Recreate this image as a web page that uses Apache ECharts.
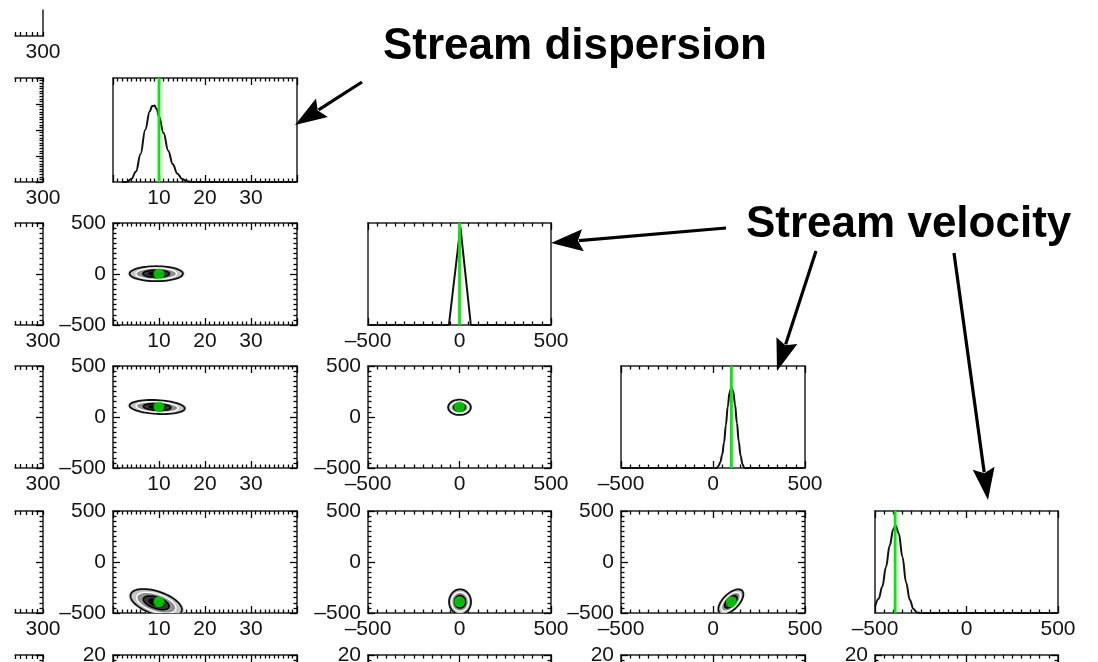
<!DOCTYPE html>
<html>
<head>
<meta charset="utf-8">
<style>
  html, body { margin: 0; padding: 0; background: #fff; }
  #main { width: 1098px; height: 662px; }
</style>
<script src="https://cdn.jsdelivr.net/npm/echarts@6/dist/echarts.min.js"></script>
</head>
<body>
<div id="main"></div>
<script>
// true parameter values (green marks)
const truth = { p0: 300, disp: 10, v1: 0, v2: 100, v3: -390, p5: 0 };

// axis scales and the tick labels that are visible
const p0Range = [250, 300], p0Step = 10, p0Labels = [300];
const dispRange = [0, 40], dispStep = 10, dispLabels = [10, 20, 30];
const velRange = [-500, 500], velStep = 500, velLabels = [-500, 0, 500];
const p5Range = [-20, 20], p5Step = 20, p5Labels = [20];

// 1D marginal curves (height as fraction of panel)
const dispHistX = [2, 3, 4, 5, 6, 7, 8, 8.5, 9, 9.5, 10, 11, 12, 13, 14, 15, 16, 17, 20, 40];
const dispHistY = [0, 0, 0.03, 0.1, 0.27, 0.5, 0.68, 0.73, 0.735, 0.7, 0.63, 0.47, 0.3, 0.17, 0.08, 0.03, 0.01, 0, 0, 0];
const v1HistX = [-500, -58, 5, 62, 500];
const v1HistY = [0, 0, 0.96, 0, 0];
const v2HistX = [-500, 20, 30, 40, 50, 60, 70, 80, 90, 100, 110, 120, 130, 140, 150, 160, 170, 500];
const v2HistY = [0, 0, 0.02, 0.06, 0.13, 0.25, 0.42, 0.6, 0.74, 0.79, 0.75, 0.62, 0.44, 0.26, 0.12, 0.04, 0, 0];
const v3HistX = [-500, -480, -460, -440, -420, -400, -388, -370, -350, -330, -310, -290, -270, -250, 500];
const v3HistY = [0.06, 0.14, 0.26, 0.45, 0.66, 0.82, 0.86, 0.78, 0.55, 0.3, 0.13, 0.04, 0.005, 0, 0];

// 2D posterior blobs: panel "x|y", centre, outer semi-axes, correlation
const blobPanels = ['disp|v1', 'disp|v2', 'v1|v2', 'disp|v3', 'v1|v3', 'v2|v3'];
const blobCx = [9.4, 9.6, 0, 9.4, 3, 97];
const blobCy = [3, 98, 95, -400, -390, -390];
const blobSx = [5.8, 6.0, 62, 5.6, 60, 68];
const blobSy = [73, 69, 75, 135, 122, 122];
const blobRho = [0, -0.2, 0, -0.5, 0, 0.6];

// layout of the (cropped) corner plot
const colParams = ['p0', 'disp', 'v1', 'v2', 'v3'];
const rowParams = ['p0', 'disp', 'v1', 'v2', 'v3', 'p5'];
const colLeft = [15, 113, 368, 621, 875];
const colWidth = [28, 184, 183, 184, 183];
const rowTop = [10, 78, 223, 366, 511, 655];
const rowHeight = [26, 104, 102, 102, 102, 103];

const scales = {
  p0: { range: p0Range, step: p0Step, labels: p0Labels, minor: 0, tick: 4 },
  disp: { range: dispRange, step: dispStep, labels: dispLabels, minor: 10, tick: 7 },
  v1: { range: velRange, step: velStep, labels: velLabels, minor: 10, tick: 7 },
  v2: { range: velRange, step: velStep, labels: velLabels, minor: 10, tick: 7 },
  v3: { range: velRange, step: velStep, labels: velLabels, minor: 10, tick: 7 },
  p5: { range: p5Range, step: p5Step, labels: p5Labels, minor: 10, tick: 7 },
};
const hists = {
  disp: [dispHistX, dispHistY, true],
  v1: [v1HistX, v1HistY, false],
  v2: [v2HistX, v2HistY, true],
  v3: [v3HistX, v3HistY, true],
};

const boxLine = { color: '#222', width: 1.5 };
const tickLine = { color: '#000', width: 1.3 };
const labelFont = { fontSize: 21, fontFamily: 'Liberation Sans, Arial, sans-serif', color: '#141414' };

function labelFmt(list) {
  return function (v) {
    return list.indexOf(v) >= 0 ? String(v).replace('-', '\u2013') : '';
  };
}

function scaleAxis(s, gi, pos, showLine, showLabel, margin) {
  return {
    type: 'value', gridIndex: gi, position: pos,
    min: s.range[0], max: s.range[1], interval: s.step,
    axisLine: { show: showLine, onZero: false, lineStyle: boxLine },
    axisTick: { show: showLine, inside: true, length: s.tick, lineStyle: tickLine },
    minorTick: { show: showLine && s.minor > 0, splitNumber: s.minor || 5, length: 3.5, lineStyle: tickLine },
    splitLine: { show: false },
    minorSplitLine: { show: false },
    axisLabel: Object.assign({
      show: showLabel, margin: margin, showMinLabel: true, showMaxLabel: true,
      formatter: labelFmt(s.labels)
    }, labelFont),
  };
}

function histYAxis(gi, pos, showLine) {
  return {
    type: 'value', gridIndex: gi, position: pos, min: 0, max: 1,
    axisLine: { show: showLine, onZero: false, lineStyle: boxLine },
    axisTick: { show: false }, minorTick: { show: false },
    splitLine: { show: false }, axisLabel: { show: false },
  };
}

function renderBlob(params, api) {
  const cx = api.value(0), cy = api.value(1), sx = api.value(2), sy = api.value(3), rho = api.value(4);
  const levels = [1.06, 1, 0.76, 0.5, 0.3];
  const fills = ['#eeeeee', '#c4c4c4', '#8e8e8e', '#383838', '#050505'];
  const strokes = ['#ddd', '#111', '#fff', '#000', '#000'];
  const widths = [1, 1.8, 1.4, 1.5, 0.5];
  const q = Math.sqrt(1 - rho * rho);
  const children = levels.map(function (k, i) {
    const pts = [];
    for (let j = 0; j < 60; j++) {
      const t = j / 60 * Math.PI * 2;
      const x = cx + k * sx * Math.cos(t);
      const y = cy + k * sy * (rho * Math.cos(t) + q * Math.sin(t));
      pts.push(api.coord([x, y]));
    }
    return { type: 'polygon', shape: { points: pts }, style: { fill: fills[i], stroke: strokes[i], lineWidth: widths[i] } };
  });
  return { type: 'group', children: children };
}

const grids = [], xAxes = [], yAxes = [], series = [];

for (let r = 0; r < rowParams.length; r++) {
  for (let c = 0; c <= Math.min(r, colParams.length - 1); c++) {
    const gi = grids.length;
    grids.push({ left: colLeft[c], top: rowTop[r], width: colWidth[c], height: rowHeight[r], outerBoundsMode: 'none' });
    const xs = scales[colParams[c]];
    const diag = r === c;
    const leftEdge = c > 0;   // left border of column 0 is outside the crop
    const topEdge = r > 0;    // top border of row 0 is outside the crop

    const xi = xAxes.length;
    xAxes.push(scaleAxis(xs, gi, 'bottom', true, true, 6));
    xAxes.push(scaleAxis(xs, gi, 'top', topEdge, false, 6));

    const yi = yAxes.length;
    if (diag) {
      yAxes.push(histYAxis(gi, 'left', leftEdge));
      yAxes.push(histYAxis(gi, 'right', true));
    } else {
      const ys = scales[rowParams[r]];
      yAxes.push(scaleAxis(ys, gi, 'left', leftEdge, leftEdge, 7));
      yAxes.push(scaleAxis(ys, gi, 'right', true, false, 7));
    }

    if (diag && hists[colParams[c]]) {
      const h = hists[colParams[c]];
      series.push({
        type: 'line', xAxisIndex: xi, yAxisIndex: yi,
        data: h[0].map(function (x, k) { return [x, h[1][k]]; }),
        showSymbol: false, smooth: h[2] ? 0.4 : false, smoothMonotone: 'x',
        lineStyle: { color: '#111', width: 2 }, z: 3, silent: true,
      });
      const tv = truth[colParams[c]];
      series.push({
        type: 'line', xAxisIndex: xi, yAxisIndex: yi,
        data: [[tv, 0], [tv, 1]], showSymbol: false,
        lineStyle: { color: '#00ee00', width: 2.8 }, z: 4, silent: true,
      });
    }

    if (!diag) {
      const key = colParams[c] + '|' + rowParams[r];
      const items = [];
      blobPanels.forEach(function (p, k) {
        if (p === key) items.push([blobCx[k], blobCy[k], blobSx[k], blobSy[k], blobRho[k]]);
      });
      if (items.length) {
        series.push({
          type: 'custom', xAxisIndex: xi, yAxisIndex: yi, clip: true,
          renderItem: renderBlob, data: items, z: 2, silent: true,
        });
        series.push({
          type: 'scatter', xAxisIndex: xi, yAxisIndex: yi,
          data: [[truth[colParams[c]], truth[rowParams[r]]]],
          symbolSize: 11, itemStyle: { color: '#00e600' }, z: 5, silent: true,
        });
      }
    }
  }
}

function arrow(x1, y1, x2, y2) {
  const dx = x2 - x1, dy = y2 - y1, len = Math.hypot(dx, dy);
  const ux = dx / len, uy = dy / len, hl = 32, hw = 11;
  const bx = x2 - ux * hl, by = y2 - uy * hl;
  return [
    { type: 'line', shape: { x1: x1, y1: y1, x2: bx + ux * 4, y2: by + uy * 4 }, style: { stroke: '#000', lineWidth: 3.2 }, z: 10 },
    { type: 'polygon', shape: { points: [[x2, y2], [bx - uy * hw, by + ux * hw], [bx + ux * 5, by + uy * 5], [bx + uy * hw, by - ux * hw]] }, style: { fill: '#000' }, z: 10 },
  ];
}

const titleFont = 'bold 44px "Liberation Sans", Arial, sans-serif';
const graphic = [
  { type: 'text', x: 383, y: 47, style: { text: 'Stream dispersion', font: titleFont, fill: '#000', verticalAlign: 'middle', textVerticalAlign: 'middle' }, z: 10 },
  { type: 'text', x: 746, y: 225, style: { text: 'Stream velocity', font: titleFont, fill: '#000', verticalAlign: 'middle', textVerticalAlign: 'middle' }, z: 10 },
].concat(
  arrow(362, 82, 295, 125),
  arrow(726, 228, 551, 243),
  arrow(816, 251, 777, 371),
  arrow(954, 253, 988, 500)
);

const option = {
  animation: false,
  backgroundColor: '#fff',
  grid: grids,
  xAxis: xAxes,
  yAxis: yAxes,
  series: series,
  graphic: graphic,
};

const myChart = echarts.init(document.getElementById('main'));
myChart.setOption(option);
</script>
</body>
</html>
